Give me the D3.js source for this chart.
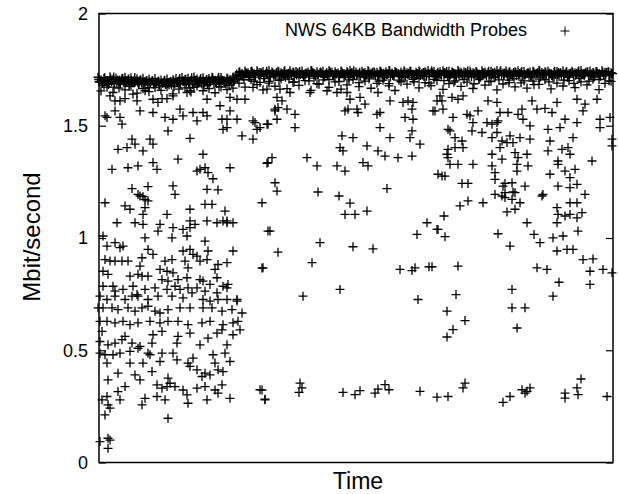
<!DOCTYPE html>
<html lang="en">
<head>
    <meta charset="UTF-8">
    <title>NWS 64KB Bandwidth Probes</title>
    <script src="https://d3js.org/d3.v7.min.js"></script>
    <style>
        body { margin: 0; background: #fff; }
        svg { display: block; font-family: "Liberation Sans", Arial, Helvetica, sans-serif; }
        .tick text { font-size: 18px; fill: #000; }
        .tick line { stroke: #000; stroke-width: 1.2; }
    </style>
</head>
<body>
<svg id="chart" width="618" height="494"></svg>
<script>
    // y axis ticks
    const yTicks = [0, 0.5, 1, 1.5, 2];

    // dense band of probes near link capacity, one probe every 3 time units
    const bandTop = [
        1.716,1.704,1.712,1.701,1.718,1.707,1.713,1.702,1.71,1.716,
        1.705,1.714,1.7,1.709,1.703,1.712,1.698,1.707,1.701,1.71,
        1.697,1.704,1.699,1.708,1.696,1.705,1.71,1.701,1.715,1.706,
        1.712,1.702,1.717,1.708,1.704,1.714,1.7,1.711,1.716,1.703,
        1.709,1.715,1.702,1.713,1.706,1.717,
        1.724,1.738,1.733,1.744,1.736,1.741,1.732,1.745,1.737,1.742,
        1.734,1.746,1.739,1.731,1.743,1.736,1.74,1.733,1.745,1.738,
        1.742,1.735,1.744,1.731,1.739,1.746,1.734,1.741,1.737,1.743,
        1.732,1.745,1.738,1.74,1.735,1.744,1.733,1.742,1.746,1.736,
        1.739,1.731,1.743,1.737,1.745,1.734,1.741,1.738,1.744,1.732,
        1.74,1.746,1.735,1.742,1.733,1.739,1.745,1.736,1.743,1.731,
        1.738,1.744,1.734,1.741,1.746,1.737,1.742,1.732,1.74,1.745,
        1.735,1.743,1.739,1.733,1.746,1.738,1.741,1.734,1.744,1.736,
        1.742,1.731,1.745,1.739,1.737,1.743,1.733,1.746,1.74,1.735,
        1.744,1.738,1.732,1.741,1.745,1.736,1.742,1.734,1.739,1.743,
        1.731,1.746,1.737,1.74,1.744,1.733,1.738,1.742,1.735,1.745,
        1.739,1.732,1.743,1.736,1.741,1.746,1.734,1.74,1.744,1.737,
        1.742,1.733,1.745,1.738,1.741,1.736
    ];
    // another row inside the band, every 3 time units starting at 0.75
    const bandUpper = [
        1.706,1.693,1.714,1.699,1.709,1.717,1.695,1.704,1.712,1.691,
        1.708,1.7,1.715,1.694,1.705,1.689,1.702,1.696,1.7,1.687,
        1.699,1.692,1.703,1.688,1.697,1.701,1.693,1.711,1.698,1.707,
        1.69,1.714,1.703,1.696,1.71,1.692,1.706,1.699,1.713,1.694,
        1.716,1.704,1.697,1.709,1.701,1.712,
        1.73,1.741,1.722,1.737,1.728,1.744,1.725,1.739,1.732,1.721,
        1.743,1.727,1.736,1.724,1.74,1.73,1.745,1.723,1.734,1.738,
        1.726,1.742,1.729,1.735,1.721,1.744,1.731,1.727,1.739,1.724,
        1.737,1.743,1.728,1.733,1.722,1.741,1.726,1.736,1.73,1.745,
        1.723,1.738,1.732,1.725,1.742,1.729,1.735,1.721,1.74,1.734,
        1.727,1.744,1.724,1.737,1.731,1.722,1.739,1.728,1.743,1.726,
        1.733,1.741,1.725,1.736,1.73,1.745,1.723,1.738,1.729,1.734,
        1.742,1.721,1.737,1.727,1.74,1.732,1.724,1.744,1.735,1.728,
        1.739,1.722,1.736,1.731,1.743,1.726,1.738,1.73,1.745,1.725,
        1.734,1.741,1.723,1.737,1.729,1.742,1.727,1.735,1.721,1.74,
        1.733,1.744,1.726,1.738,1.731,1.724,1.743,1.728,1.736,1.722,
        1.741,1.73,1.737,1.725,1.744,1.732,1.727,1.739,1.723,1.735,
        1.742,1.729,1.738,1.726,1.74,1.733
    ];
    // second row of the band, every 3 time units starting at 1.5
    const bandMid = [
        1.695,1.688,1.701,1.684,1.697,1.69,1.703,1.686,1.694,1.699,
        1.685,1.692,1.698,1.683,1.689,1.696,1.682,1.691,1.686,1.694,
        1.68,1.689,1.684,1.693,1.681,1.688,1.696,1.685,1.699,1.69,
        1.697,1.684,1.702,1.691,1.687,1.698,1.683,1.695,1.701,1.688,
        1.693,1.7,1.686,1.697,1.69,1.703,
        1.71,1.726,1.719,1.733,1.722,1.736,1.717,1.729,1.735,1.72,
        1.731,1.718,1.727,1.737,1.723,1.73,1.716,1.734,1.725,1.721,
        1.736,1.728,1.718,1.732,1.724,1.737,1.72,1.729,1.734,1.717,
        1.726,1.735,1.722,1.73,1.719,1.733,1.727,1.716,1.736,1.724,
        1.731,1.72,1.734,1.728,1.718,1.737,1.723,1.729,1.735,1.721,
        1.732,1.717,1.726,1.736,1.722,1.73,1.719,1.734,1.727,1.716,
        1.733,1.724,1.737,1.72,1.729,1.735,1.718,1.731,1.725,1.736,
        1.721,1.728,1.734,1.717,1.732,1.723,1.737,1.726,1.719,1.733,
        1.73,1.716,1.735,1.722,1.728,1.736,1.72,1.731,1.724,1.734,
        1.718,1.729,1.737,1.723,1.733,1.719,1.727,1.735,1.721,1.73,
        1.736,1.717,1.732,1.725,1.734,1.72,1.728,1.737,1.722,1.731,
        1.716,1.735,1.726,1.733,1.719,1.729,1.736,1.723,1.73,1.718,
        1.734,1.721,1.727,1.737,1.724,1.732
    ];
    // probes just under the band, one every 5 time units starting at 1
    const bandLow = [
        1.695,1.68,1.69,1.672,1.688,1.698,1.676,1.69,1.684,1.694,
        1.67,1.686,1.679,1.692,1.681,1.674,1.689,1.696,1.683,1.671,
        1.69,1.678,1.694,1.685,1.673,1.691,1.68,1.697,
        1.72,1.705,1.715,1.698,1.725,1.71,1.69,1.718,1.702,1.722,
        1.708,1.695,1.716,1.727,1.7,1.712,1.685,1.72,1.706,1.723,
        1.697,1.714,1.704,1.726,1.692,1.717,1.709,1.724,1.699,1.713,
        1.688,1.721,1.703,1.716,1.728,1.696,1.711,1.719,1.69,1.707,
        1.725,1.701,1.714,1.694,1.722,1.706,1.718,1.687,1.712,1.727,
        1.698,1.715,1.704,1.724,1.692,1.71,1.72,1.7,1.717,1.683,
        1.708,1.726,1.695,1.713,1.721,1.703,1.716,1.689,1.711,1.723,
        1.699,1.718,1.706,1.725,1.7
    ];
    // loose fringe under the band, one every 6 time units starting at 3
    const bandFringe = [
        1.655,1.672,1.648,1.668,1.66,1.676,1.645,1.665,1.652,1.67,
        1.658,1.674,1.642,1.663,1.669,1.65,1.677,1.656,1.666,1.647,
        1.673,1.661,1.668,
        1.69,1.672,1.705,1.683,1.66,1.698,1.676,1.708,1.665,1.693,
        1.68,1.701,1.658,1.687,1.704,1.671,1.695,1.663,1.682,1.706,
        1.674,1.699,1.667,1.689,1.703,1.678,1.657,1.696,1.685,1.707,
        1.669,1.692,1.679,1.702,1.662,1.688,1.7,1.675,1.694,1.666,
        1.706,1.681,1.697,1.66,1.686,1.703,1.673,1.691,1.668,1.699,
        1.684,1.705,1.664,1.69,1.677,1.701,1.67,1.695,1.682,1.707,
        1.661,1.689,1.698
    ];

    // [time, Mbit/s] for the scattered probes
    const leftProbes = [
        [12,1.633],[17,1.611],[22,1.611],[27,1.621],[35,1.641],[39,1.611],[47,1.656],[55,1.618],[60,1.604],[64,1.621],
        [69,1.621],[75,1.633],[89,1.648],[92,1.656],[109,1.618],[122,1.589],[132,1.626],[139,1.618],[147,1.618],[155,1.671],
        [162,1.693],[169,1.663],[7,1.544],[9,1.537],[17,1.566],[22,1.537],[24,1.507],[42,1.566],[55,1.559],[67,1.537],
        [75,1.529],[82,1.574],[85,1.544],[95,1.559],[99,1.522],[105,1.559],[109,1.544],[124,1.529],[129,1.529],[132,1.566],
        [139,1.529],[155,1.522],[157,1.514],[159,1.484],[169,1.507],[125,1.484],[129,1.492],[70,1.477],[92,1.444],[144,1.455],
        [155,1.44],[20,1.395],[29,1.403],[34,1.44],[37,1.418],[45,1.388],[52,1.44],[55,1.418],[80,1.351],[105,1.373],
        [14,1.306],[30,1.313],[40,1.321],[55,1.336],[59,1.306],[99,1.298],[102,1.306],[107,1.313],[110,1.291],[115,1.264],
        [132,1.313],[169,1.333],[34,1.22],[40,1.194],[45,1.184],[50,1.229],[75,1.232],[77,1.194],[109,1.217],[120,1.214],
        [42,1.187],[47,1.172],[50,1.165],[7,1.157],[27,1.143],[32,1.128],[47,1.135],[45,1.105],[69,1.105],[92,1.128],
        [107,1.15],[114,1.15],[127,1.12],[129,1.076],[164,1.157],[19,1.068],[37,1.068],[45,1.061],[62,1.061],[60,1.031],
        [75,1.046],[85,1.038],[92,1.076],[92,1.046],[97,1.061],[109,1.076],[119,1.068],[125,1.076],[129,1.068],[135,1.068],
        [5,1.009],[9,0.964],[17,0.979],[22,0.957],[25,0.964],[47,1.001],[74,1.001],[89,1.009],[107,0.986],[50,0.949],
        [55,0.927],[85,0.942],[92,0.949],[95,0.927],[110,0.942],[135,0.942],[170,1.031],[7,0.904],[12,0.897],[17,0.897],
        [24,0.897],[30,0.897],[44,0.912],[42,0.875],[67,0.897],[74,0.904],[62,0.86],[69,0.852],[75,0.845],[87,0.897],
        [90,0.867],[99,0.919],[102,0.897],[109,0.904],[117,0.86],[120,0.882],[129,0.89],[165,0.867],[5,0.852],[10,0.838],
        [32,0.83],[40,0.838],[44,0.83],[50,0.83],[64,0.815],[70,0.808],[80,0.815],[89,0.823],[102,0.815],[105,0.808],
        [112,0.793],[119,0.823],[125,0.785],[130,0.793],[5,0.785],[15,0.785],[17,0.763],[25,0.771],[35,0.785],[39,0.748],
        [47,0.771],[57,0.778],[69,0.771],[77,0.785],[82,0.771],[90,0.778],[94,0.756],[99,0.778],[107,0.763],[119,0.756],
        [129,0.778],[139,0.726],[2,0.741],[9,0.726],[17,0.741],[27,0.726],[34,0.741],[40,0.741],[50,0.726],[60,0.741],
        [74,0.741],[85,0.733],[105,0.726],[112,0.719],[120,0.726],[129,0.726],[139,0.719],[0,0.689],[5,0.689],[14,0.689],
        [20,0.681],[30,0.689],[37,0.674],[44,0.689],[50,0.696],[57,0.674],[62,0.666],[70,0.681],[82,0.689],[92,0.689],
        [105,0.689],[114,0.689],[124,0.674],[134,0.681],[144,0.666],[2,0.629],[9,0.629],[17,0.622],[25,0.629],[32,0.614],
        [40,0.622],[52,0.629],[62,0.622],[70,0.629],[80,0.629],[90,0.614],[104,0.622],[112,0.629],[125,0.614],[135,0.622],
        [140,0.629],[4,0.584],[2,0.539],[10,0.524],[17,0.532],[24,0.547],[27,0.562],[34,0.532],[42,0.517],[55,0.569],
        [54,0.532],[64,0.584],[79,0.532],[80,0.562],[92,0.576],[102,0.524],[110,0.554],[119,0.576],[124,0.591],[129,0.524],
        [135,0.569],[142,0.591],[2,0.487],[9,0.443],[7,0.48],[15,0.48],[22,0.487],[32,0.495],[32,0.443],[40,0.509],
        [45,0.443],[50,0.487],[54,0.405],[52,0.48],[62,0.45],[64,0.487],[75,0.487],[79,0.457],[90,0.443],[92,0.428],
        [95,0.465],[99,0.413],[104,0.383],[107,0.398],[112,0.39],[117,0.443],[120,0.413],[125,0.405],[132,0.45],[115,0.48],
        [127,0.487],[20,0.398],[10,0.368],[42,0.368],[37,0.39],[59,0.346],[64,0.331],[70,0.376],[72,0.353],[69,0.338],
        [77,0.338],[85,0.323],[89,0.301],[99,0.331],[107,0.338],[117,0.323],[124,0.346],[120,0.309],[132,0.286],[109,0.279],
        [90,0.264],[67,0.279],[59,0.294],[47,0.286],[44,0.257],[27,0.338],[20,0.316],[22,0.279],[9,0.294],[4,0.279],
        [10,0.257],[12,0.242],[7,0.212],[70,0.197],[2,0.093],[10,0.108],[12,0.1],[10,0.063],[164,0.323],[167,0.279]
    ];
    const midProbes = [
        [182,1.663],[179,1.626],[184,1.611],[180,1.581],[177,1.574],[189,1.574],[177,1.566],[192,1.648],[197,1.551],[179,1.529],
        [170,1.507],[162,1.492],[197,1.492],[212,1.648],[229,1.656],[239,1.648],[249,1.648],[252,1.618],[262,1.626],[267,1.596],
        [247,1.566],[250,1.574],[259,1.574],[260,1.559],[279,1.551],[282,1.559],[292,1.611],[280,1.648],[305,1.604],[310,1.611],
        [315,1.604],[314,1.574],[307,1.537],[315,1.529],[335,1.566],[339,1.611],[282,1.492],[244,1.455],[255,1.447],[242,1.403],
        [245,1.388],[269,1.41],[280,1.388],[287,1.365],[292,1.447],[314,1.477],[312,1.447],[322,1.418],[300,1.358],[314,1.365],
        [174,1.358],[170,1.336],[209,1.358],[219,1.321],[239,1.321],[247,1.298],[265,1.336],[270,1.321],[340,1.284],[177,1.246],
        [179,1.209],[220,1.205],[241,1.187],[289,1.22],[252,1.155],[247,1.105],[257,1.105],[269,1.12],[172,1.031],[180,0.937],
        [222,0.979],[214,0.89],[255,0.961],[275,0.952],[164,0.866],[205,0.741],[242,0.771],[302,0.86],[314,0.855],[317,0.867],
        [331,0.872],[320,0.726],[319,1.016],[329,1.068],[339,1.038],[162,0.324],[167,0.282],[202,0.354],[204,0.332],[201,0.312],
        [245,0.312],[257,0.302],[262,0.32],[277,0.309],[280,0.327],[287,0.347],[291,0.324],[322,0.317],[339,0.291]
    ];
    const rightProbes = [
        [337,1.566],[345,1.574],[344,1.611],[342,1.633],[354,1.626],[355,1.537],[360,1.618],[365,1.633],[369,1.551],[372,1.544],
        [375,1.514],[374,1.477],[380,1.566],[384,1.47],[350,1.484],[352,1.477],[357,1.447],[364,1.432],[365,1.403],[357,1.403],
        [350,1.395],[349,1.373],[350,1.358],[352,1.328],[360,1.328],[375,1.328],[344,1.276],[347,1.276],[364,1.243],[370,1.243],
        [390,1.611],[399,1.604],[389,1.514],[394,1.507],[399,1.514],[400,1.522],[402,1.559],[410,1.559],[420,1.551],[424,1.574],
        [425,1.529],[399,1.47],[394,1.447],[404,1.432],[412,1.455],[409,1.425],[415,1.425],[422,1.447],[432,1.44],[402,1.403],
        [394,1.373],[404,1.351],[394,1.321],[397,1.291],[417,1.38],[420,1.358],[429,1.373],[419,1.328],[430,1.321],[419,1.298],
        [407,1.243],[414,1.246],[397,1.261],[405,1.231],[427,1.231],[397,1.194],[404,1.187],[415,1.205],[445,1.194],[432,1.499],
        [434,1.611],[439,1.574],[447,1.577],[454,1.559],[459,1.604],[467,1.529],[479,1.514],[485,1.566],[487,1.596],[479,1.618],
        [499,1.618],[502,1.529],[502,1.492],[512,1.537],[450,1.484],[462,1.492],[475,1.447],[452,1.432],[450,1.388],[464,1.395],
        [470,1.403],[472,1.373],[460,1.343],[460,1.328],[467,1.298],[452,1.284],[472,1.269],[477,1.306],[494,1.343],[460,1.231],
        [472,1.224],[479,1.239],[487,1.194],[514,1.44],[514,1.41],[407,1.202],[417,1.202],[407,1.18],[414,1.172],[422,1.157],
        [417,1.128],[409,1.116],[444,1.187],[472,1.157],[479,1.157],[459,1.135],[460,1.105],[467,1.098],[472,1.105],[479,1.09],
        [484,1.113],[459,1.068],[480,1.031],[465,1.009],[455,1.001],[459,0.942],[469,0.949],[475,0.949],[485,0.904],[495,0.907],
        [492,0.852],[505,0.86],[514,0.845],[492,0.793],[461,0.803],[455,0.741],[429,1.068],[436,1.016],[442,0.979],[412,0.964],
        [400,1.019],[439,0.867],[449,0.86],[414,0.771],[414,0.689],[427,0.689],[419,0.599],[362,1.143],[370,1.165],[385,1.157],
        [346,1.098],[340,1.038],[347,1.006],[334,0.872],[360,0.875],[358,0.748],[349,0.674],[367,0.632],[355,0.592],[349,0.559],
        [367,0.354],[365,0.332],[350,0.294],[405,0.268],[412,0.294],[424,0.324],[429,0.317],[432,0.332],[427,0.309],[467,0.309],
        [467,0.287],[479,0.332],[483,0.372],[480,0.302],[509,0.294]
    ];

    const margin = { top: 13.5, right: 5, bottom: 31.5, left: 99 };
    const width = 618 - margin.left - margin.right;
    const height = 494 - margin.top - margin.bottom;

    const svg = d3.select('#chart');
    const g = svg.append('g').attr('transform', `translate(${margin.left},${margin.top})`);

    const x = d3.scaleLinear().domain([0, 515]).range([-1, width]);
    const y = d3.scaleLinear().domain([0, 2]).range([height, 0]);

    // collect all probes
    const points = [];
    bandTop.forEach((v, i) => points.push([i * 3, v]));
    bandUpper.forEach((v, i) => points.push([0.75 + i * 3, v]));
    bandMid.forEach((v, i) => points.push([1.5 + i * 3, v]));
    bandLow.forEach((v, i) => points.push([1 + i * 5, v]));
    bandFringe.forEach((v, i) => points.push([3 + i * 6, v]));
    leftProbes.concat(midProbes, rightProbes).forEach(d => points.push(d));

    // left axis with inward ticks
    g.append('g')
        .call(d3.axisLeft(y).tickValues(yTicks).tickSize(-7).tickPadding(11).tickFormat(d3.format('')))
        .call(a => a.select('.domain').remove());

    // mirrored ticks on the right
    g.append('g')
        .attr('transform', `translate(${width},0)`)
        .call(d3.axisRight(y).tickValues(yTicks).tickSize(-7).tickFormat(''))
        .call(a => a.select('.domain').remove());

    // plus markers
    const plus = 'M-4.5,0H4.5M0,-4.5V4.5';
    g.append('g')
        .selectAll('path')
        .data(points)
        .enter().append('path')
        .attr('d', plus)
        .attr('transform', d => `translate(${x(d[0])},${y(d[1])})`)
        .attr('stroke', '#000')
        .attr('stroke-width', 1.3)
        .attr('fill', 'none');

    // frame
    g.append('rect')
        .attr('x', 0).attr('y', 0)
        .attr('width', width).attr('height', height)
        .attr('fill', 'none')
        .attr('stroke', '#000')
        .attr('stroke-width', 1.5);

    // legend
    g.append('text')
        .attr('x', 527 - margin.left)
        .attr('y', 36 - margin.top)
        .attr('text-anchor', 'end')
        .style('font-size', '18px')
        .text('NWS 64KB Bandwidth Probes');
    g.append('path')
        .attr('d', plus)
        .attr('transform', `translate(${565 - margin.left},${31 - margin.top})`)
        .attr('stroke', '#000')
        .attr('fill', 'none');

    // axis labels
    svg.append('text')
        .attr('x', 358)
        .attr('y', 489)
        .attr('text-anchor', 'middle')
        .style('font-size', '23px')
        .text('Time');

    svg.append('text')
        .attr('transform', 'translate(40,237) rotate(-90)')
        .attr('text-anchor', 'middle')
        .style('font-size', '24px')
        .text('Mbit/second');
</script>
</body>
</html>
